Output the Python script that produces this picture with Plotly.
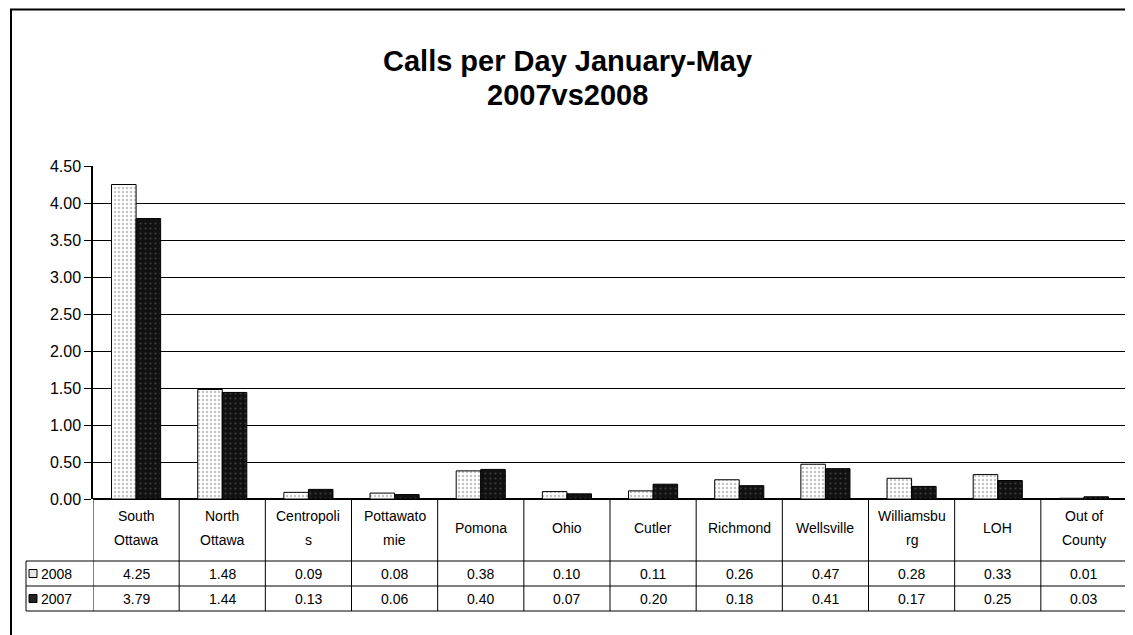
import plotly.graph_objects as go

# ---- data ----
categories = ["South Ottawa", "North Ottawa", "Centropolis", "Pottawatomie", "Pomona", "Ohio",
              "Cutler", "Richmond", "Wellsville", "Williamsburg", "LOH", "Out of County"]
header_labels = [["South", "Ottawa"], ["North", "Ottawa"], ["Centropoli", "s"], ["Pottawato", "mie"],
                 ["Pomona"], ["Ohio"], ["Cutler"], ["Richmond"], ["Wellsville"],
                 ["Williamsbu", "rg"], ["LOH"], ["Out of", "County"]]
series_names = ["2008", "2007"]
values_2008 = [4.25, 1.48, 0.09, 0.08, 0.38, 0.10, 0.11, 0.26, 0.47, 0.28, 0.33, 0.01]
values_2007 = [3.79, 1.44, 0.13, 0.06, 0.40, 0.07, 0.20, 0.18, 0.41, 0.17, 0.25, 0.03]
y_ticks = [0, 0.5, 1, 1.5, 2, 2.5, 3, 3.5, 4, 4.5]
title_lines = ["Calls per Day January-May", "2007vs2008"]

W, H = 1133, 635
OFF = 8  # page body margin: figure coords = screen coords - OFF
# screen coordinates of the plot area
SL, SR, ST, SB = 93, 1127, 166, 499
L, R, T, B = SL - OFF, SR - OFF, ST - OFF, SB - OFF
FONT = "Liberation Sans, Arial, sans-serif"


def yp(Y):
    """screen y -> paper y"""
    return (SB - Y) / (SB - ST)


def xp(X):
    """screen x -> paper x"""
    return (X - SL) / (SR - SL)


fig = go.Figure()
fig.add_trace(go.Bar(
    x=categories, y=values_2008, name=series_names[0],
    marker=dict(color="white", line=dict(color="black", width=1),
                pattern=dict(shape=".", bgcolor="white", fgcolor="#8a8a8a", size=4, solidity=0.3)),
))
fig.add_trace(go.Bar(
    x=categories, y=values_2007, name=series_names[1],
    marker=dict(color="#111111", line=dict(color="black", width=1),
                pattern=dict(shape=".", bgcolor="#111111", fgcolor="#6a6a6a", size=5, solidity=0.15)),
))

shapes = []
annotations = []

# outer chart frame
shapes.append(dict(type="rect", xref="paper", yref="paper",
                   x0=xp(11), x1=xp(1160), y0=yp(660), y1=yp(9.5),
                   line=dict(color="black", width=2), fillcolor="rgba(0,0,0,0)", layer="below"))

# title (two centred bold lines)
for txt, Y in zip(title_lines, (61, 95)):
    annotations.append(dict(x=xp(567), xref="paper", y=yp(Y), yref="paper", text=f"<b>{txt}</b>",
                            xanchor="center", yanchor="middle", showarrow=False,
                            font=dict(size=29, color="black", family=FONT)))

# data table lines
row_top, row_mid, row_bot = 561, 586, 611
for Y in (row_top, row_mid, row_bot):
    shapes.append(dict(type="line", xref="paper", yref="paper", x0=xp(26), x1=1, y0=yp(Y), y1=yp(Y),
                       line=dict(color="black", width=1)))
for i in range(len(categories) + 1):
    shapes.append(dict(type="line", xref="x", yref="paper", x0=i - 0.5, x1=i - 0.5,
                       y0=0, y1=yp(row_bot), line=dict(color="black", width=1)))
shapes.append(dict(type="line", xref="paper", yref="paper", x0=xp(26), x1=xp(26),
                   y0=yp(row_top), y1=yp(row_bot), line=dict(color="black", width=1)))

# header labels
for cat, lines in zip(categories, header_labels):
    ys = (516, 540) if len(lines) == 2 else (528,)
    for txt, Y in zip(lines, ys):
        annotations.append(dict(x=cat, xref="x", y=yp(Y), yref="paper", text=txt,
                                xanchor="center", yanchor="middle", showarrow=False,
                                font=dict(size=14, color="black", family=FONT)))

# value rows
for vals, Y in ((values_2008, (row_top + row_mid) / 2), (values_2007, (row_mid + row_bot) / 2)):
    for cat, v in zip(categories, vals):
        annotations.append(dict(x=cat, xref="x", y=yp(Y), yref="paper", text=f"{v:.2f}",
                                xanchor="center", yanchor="middle", showarrow=False,
                                font=dict(size=14, color="black", family=FONT)))

# row labels with legend keys
for name, Y, fill in ((series_names[0], (row_top + row_mid) / 2, "#e6e6e6"),
                      (series_names[1], (row_mid + row_bot) / 2, "#222222")):
    shapes.append(dict(type="rect", xref="paper", yref="paper", x0=xp(29), x1=xp(37),
                       y0=yp(Y + 4), y1=yp(Y - 4), line=dict(color="black", width=1), fillcolor=fill))
    annotations.append(dict(x=xp(39), xref="paper", y=yp(Y), yref="paper", text=name,
                            xanchor="left", yanchor="middle", showarrow=False,
                            font=dict(size=14, color="black", family=FONT)))

fig.update_layout(
    width=W, height=H,
    margin=dict(l=L, r=W - R, t=T, b=H - B),
    paper_bgcolor="white", plot_bgcolor="white",
    barmode="group", bargap=0.43, bargroupgap=0,
    showlegend=False,
    font=dict(family=FONT, color="black"),
    shapes=shapes, annotations=annotations,
)
fig.update_xaxes(type="category", categoryorder="array", categoryarray=categories,
                 range=[-0.5, len(categories) - 0.5], showticklabels=False, ticks="",
                 showgrid=False, showline=False, zeroline=False)
fig.update_yaxes(range=[0, 4.5], tickvals=y_ticks, tickformat=".2f",
                 showgrid=True, gridcolor="black", gridwidth=1,
                 showline=True, linecolor="black", linewidth=1.5,
                 ticks="outside", ticklen=7, tickcolor="black",
                 zeroline=True, zerolinecolor="black", zerolinewidth=1.5,
                 tickfont=dict(size=16, color="black", family=FONT))

fig.write_html("out.html")
